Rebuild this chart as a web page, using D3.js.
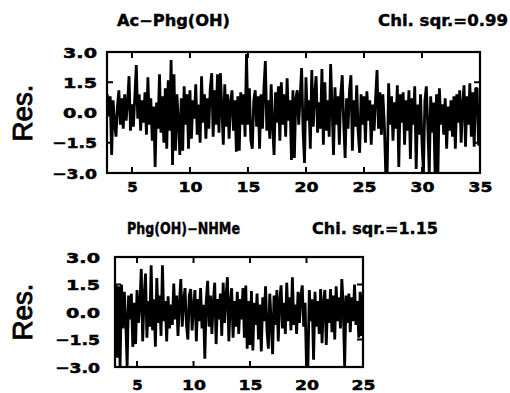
<!DOCTYPE html>
<html><head><meta charset="utf-8">
<script src="https://cdn.jsdelivr.net/npm/d3@7"></script>
<style>
html,body{margin:0;padding:0;background:#fff;}
svg{display:block;}
.tk{font-family:"DejaVu Sans",sans-serif;font-weight:bold;font-size:14.5px;fill:#000;stroke:#000;stroke-width:0.5px;}
.ttl{font-family:"DejaVu Sans",sans-serif;font-weight:bold;font-size:15px;fill:#000;stroke:#000;stroke-width:0.4px;}
.res{font-family:"Liberation Sans",Arial,sans-serif;font-size:28px;fill:#000;stroke:#000;stroke-width:0.9px;}
</style></head><body>
<svg id="c" width="510" height="393"></svg>
<script>
// ---- data (residuals) ----
const titles1 = ["Ac\u2212Phg(OH)", "Chi. sqr.=0.99"];
const titles2 = ["Phg(OH)\u2212NHMe", "Chi. sqr.=1.15"];
const yTickValues = [3.0, 1.5, 0.0, -1.5, -3.0];
const xTicks1 = [5, 10, 15, 20, 25, 30, 35];
const xTicks2 = [5, 10, 15, 20, 25];
const start1 = 2.875, step1 = 0.125;   // channel time of first point, channel width (ns)
const start2 = 3.125, step2 = 0.125;
const res1 = [
 0.9,
 -0.2,0.8,-2.1,0.6,-0.5,-1.2,0.3,1.1,
 -0.6,0.7,-0.8,0.9,-0.4,0.5,1.8,-0.9,
 0.4,-0.7,0.8,2.35,-0.3,0.9,-0.9,0.6,
 -0.5,1.0,-1.1,1.75,-0.6,0.7,-1.4,0.3,
 -2.7,0.5,-0.8,1.9,-1.0,0.8,-1.5,1.2,
 -1.8,1.6,-0.9,2.6,-2.6,1.9,-1.9,0.9,
 -0.4,-2.1,0.7,-1.9,1.3,-0.6,0.9,-1.8,
 1.1,-1.3,0.6,-0.3,1.4,-1.1,0.4,-1.5,
 1.8,-0.5,0.9,-1.3,0.7,-0.8,1.2,1.95,
 -1.2,1.1,-0.6,1.9,-1.0,1.95,0.2,-1.6,
 1.4,-0.7,0.9,-1.3,0.5,1.1,-0.9,0.6,
 -1.95,0.8,-1.9,1.0,-0.6,0.9,-1.2,2.9,
 -0.6,1.2,-1.4,-1.8,0.6,1.1,-0.7,0.8,
 -1.8,0.9,-0.8,1.2,2.55,-0.9,0.6,-1.3,
 1.4,-0.7,-2.1,1.0,-0.5,1.3,-1.4,1.5,
 -0.6,0.9,-1.2,1.7,-0.4,0.6,-2.35,1.1,
 -2.25,0.7,1.1,-0.6,0.8,2.2,-0.9,-2.5,
 1.75,-0.4,0.6,-1.8,2.1,-0.7,0.9,1.8,
 -1.0,0.5,-0.8,2.15,-1.6,1.5,-0.9,0.6,
 -1.2,2.4,0.3,-2.1,1.25,-0.6,0.8,-1.6,
 0.9,1.85,-0.5,-2.25,0.7,-0.8,1.1,1.85,
 -1.9,0.6,-0.7,1.35,-1.0,-2.0,0.9,-0.6,
 0.8,-1.5,1.05,-0.4,0.6,-1.6,0.4,-0.9,
 0.7,2.1,-0.8,1.0,-1.1,0.9,-0.5,-3.0,
 -3.0,1.45,-0.6,0.8,-1.4,0.5,-0.8,1.35,
 -2.7,0.9,-0.5,1.0,-1.6,0.6,-0.9,1.1,
 -2.3,0.7,-0.6,1.3,-2.8,0.4,-1.1,0.9,
 -1.5,-3.0,0.6,1.3,-0.7,-3.0,0.8,-1.0,
 0.5,-3.0,0.9,-3.0,1.2,-0.6,0.4,-1.1,
 0.7,-1.8,0.3,-0.9,0.6,-1.2,0.8,-1.8,
 0.9,-0.5,1.1,-1.5,0.4,1.35,-1.7,0.8,
 -0.6,1.45,-1.2,1.0,-1.7,1.2,1.2,-1.6,
 -1.6
];
const res2 = [
 1.5,-2.5,1.4,-3.0,1.5,-0.9,1.1,
 -0.5,-3.0,0.9,-0.4,1.0,-1.9,0.5,-1.75,
 1.2,-0.6,0.4,2.35,-1.6,0.8,2.1,-1.4,
 0.6,-0.8,2.55,-1.0,0.7,-1.9,1.85,-0.6,
 0.9,-1.3,2.55,-0.5,0.6,-1.6,0.85,-0.9,
 0.4,-0.7,1.55,-0.4,0.9,-1.3,0.5,1.8,
 -0.8,0.6,1.3,-0.7,-1.5,0.9,1.25,-1.0,
 0.3,1.2,-1.6,0.7,-0.5,1.3,-0.9,0.4,
 -2.55,0.6,1.7,-0.8,0.9,-1.2,0.5,1.6,
 -1.75,0.7,-0.4,1.0,-1.3,1.6,-0.6,0.8,
 1.9,-1.6,0.5,1.3,-1.4,0.6,-0.8,1.1,
 -1.2,0.7,-0.4,1.3,-1.4,1.45,-2.0,0.6,
 -1.8,1.15,-2.1,0.5,-0.7,1.0,-1.5,0.4,
 -2.15,0.8,-0.5,1.4,-1.0,-2.0,1.0,-0.6,
 -2.3,0.9,-0.7,1.2,-1.6,0.6,1.45,-0.9,
 0.5,-1.2,1.6,-0.5,0.8,-1.0,1.9,-0.7,
 0.4,-1.2,1.1,-0.6,0.9,1.45,-0.8,0.5,
 -3.0,-3.0,1.2,-0.5,0.7,-2.6,1.1,-0.8,
 0.6,-1.2,1.25,-1.7,0.5,1.2,-1.8,0.7,
 -0.6,1.25,-1.1,0.9,-1.5,1.4,-0.5,0.8,
 -0.9,1.8,0.4,-3.0,0.9,-0.6,1.0,-1.1,
 0.8,-0.5,1.5,-0.7,0.6,-1.4,1.1,-1.3,
 1.0
];

const svg = d3.select("#c");

// fit a text element to a target width (keeps it real text)
function fit(sel, w){
  sel.attr("textLength", w).attr("lengthAdjust", "spacingAndGlyphs");
  return sel;
}

function panel(cfg){
  const {res, start, step, xDomain, xTicks, left, right, top, bottom, titles, titleX, titleW, titleY, yLabelRight, xLabelY, resX, resY, id} = cfg;
  const x = d3.scaleLinear().domain(xDomain).range([left, right]);
  const y = d3.scaleLinear().domain([-3, 3]).range([bottom, top]);
  const g = svg.append("g");
  g.append("clipPath").attr("id", id).append("rect")
    .attr("x", left).attr("y", top - 1).attr("width", right - left).attr("height", bottom - top + 2);
  const pts = res.map((v, i) => [start + i * step, v]);
  const line = d3.line().x(d => x(d[0])).y(d => y(d[1]));
  g.append("path").datum(pts).attr("d", line)
    .attr("fill", "none").attr("stroke", "#000").attr("stroke-width", 2.8)
    .attr("stroke-linejoin", "bevel").attr("clip-path", `url(#${id})`);
  // frame
  g.append("rect").attr("x", left).attr("y", top).attr("width", right - left).attr("height", bottom - top)
    .attr("fill", "none").attr("stroke", "#000").attr("stroke-width", 2.2);
  // inward ticks
  const tl = 6;
  xTicks.forEach(t => {
    const px = x(t);
    g.append("line").attr("x1", px).attr("x2", px).attr("y1", top).attr("y2", top + tl).attr("stroke", "#000").attr("stroke-width", 2);
    g.append("line").attr("x1", px).attr("x2", px).attr("y1", bottom).attr("y2", bottom - tl).attr("stroke", "#000").attr("stroke-width", 2);
  });
  [1.5, 0, -1.5].forEach(t => {
    const py = y(t);
    g.append("line").attr("x1", left).attr("x2", left + tl).attr("y1", py).attr("y2", py).attr("stroke", "#000").attr("stroke-width", 2);
    g.append("line").attr("x1", right).attr("x2", right - tl).attr("y1", py).attr("y2", py).attr("stroke", "#000").attr("stroke-width", 2);
  });
  // y tick labels
  yTickValues.forEach(t => {
    const s = (t < 0 ? "\u2212" : "") + Math.abs(t).toFixed(1);
    const w = t < 0 ? 45 : 34;
    fit(g.append("text").attr("class", "tk")
      .attr("x", yLabelRight - w).attr("y", y(t) + 5.5).text(s), w);
  });
  // x tick labels
  xTicks.forEach(t => {
    const w = t < 10 ? 10.5 : 24;
    fit(g.append("text").attr("class", "tk")
      .attr("x", x(t) + 0.5 - w / 2).attr("y", xLabelY).text(t), w);
  });
  // titles
  titles.forEach((s, i) => {
    fit(g.append("text").attr("class", "ttl").attr("x", titleX[i]).attr("y", titleY).text(s), titleW[i]);
  });
  // Res.
  fit(g.append("text").attr("class", "res")
    .attr("transform", `translate(${resX},${resY + 28.5}) rotate(-90)`).text("Res."), 57);
}

panel({res: res1, start: start1, step: step1, xDomain: [2.85, 35], xTicks: xTicks1,
  left: 107, right: 480, top: 52, bottom: 173, titles: titles1, titleX: [117, 378], titleW: [113, 130], titleY: 26,
  yLabelRight: 97, xLabelY: 192, resX: 32, resY: 113, id: "cp1"});
panel({res: res2, start: start2, step: step2, xDomain: [3.05, 25], xTicks: xTicks2,
  left: 115, right: 363, top: 257, bottom: 367, titles: titles2, titleX: [127, 312], titleW: [113, 126], titleY: 234,
  yLabelRight: 100, xLabelY: 390, resX: 32, resY: 312, id: "cp2"});
</script>
</body></html>
